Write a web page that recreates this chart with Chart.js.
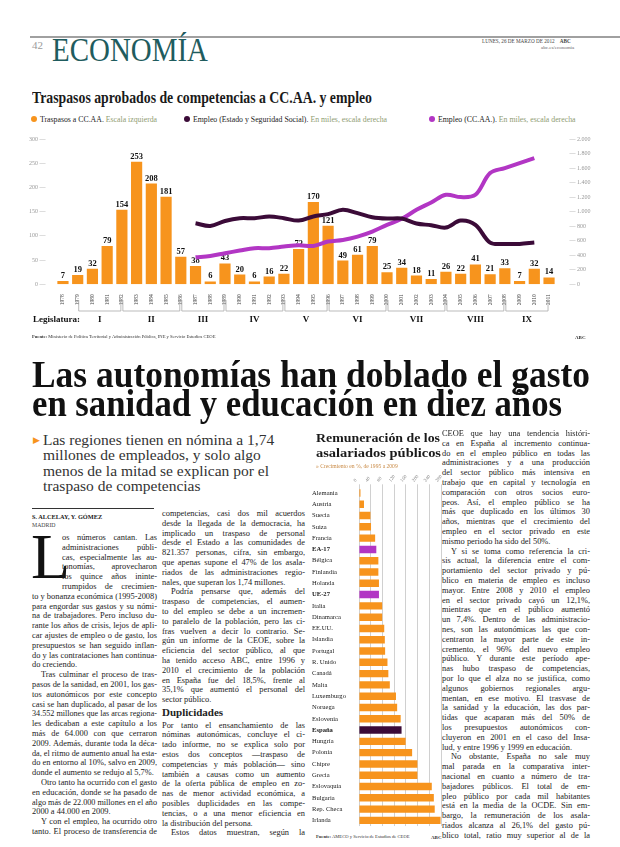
<!DOCTYPE html>
<html lang="es">
<head>
<meta charset="utf-8">
<title>Economía</title>
<script src="https://cdn.jsdelivr.net/npm/chart.js@4.4.1/dist/chart.umd.min.js"></script>
<style>
body{margin:0;width:620px;height:847px;position:relative;overflow:hidden;background:#fff;font-family:"Liberation Serif",serif;color:#222}
.a{position:absolute;white-space:nowrap;line-height:1}
.fit{display:inline-block;transform-origin:0 0}
.dot{display:inline-block;width:6px;height:6px;border-radius:50%;margin-right:3px;vertical-align:0}
.note{color:#8f9c72}
.col{position:absolute;font-size:8.4px;color:#222}
.col div{line-height:9.75px}
</style>
</head>
<body>
<!-- cabecera -->
<div class="a" style="left:30px;top:36px;width:590px;height:1.5px;background:#a0a0a0"></div>
<div class="a" style="left:32px;top:40px;font-size:11px;color:#9a9a9a">42</div>
<div class="a" style="left:52px;top:34px;font-size:33px;color:#1f5c5e"><span class="fit" id="eco">ECONOMÍA</span></div>
<div class="a" style="left:482px;top:39px;font-size:5.2px;color:#444">LUNES, 26 DE MARZO DE 2012 &nbsp;&nbsp;&nbsp;<b>ABC</b></div>
<div class="a" style="left:541px;top:45px;font-size:5px;color:#666">abc.es/economia</div>

<!-- grafico principal -->
<div class="a" style="left:32px;top:90px;font-size:16px;font-weight:bold;color:#1a1a1a"><span class="fit" id="tit">Traspasos aprobados de competencias a CC.AA. y empleo</span></div>
<div class="a" style="left:31px;top:116px;font-size:7.8px;color:#222"><span class="dot" style="background:#f7941d"></span>Traspasos a CC.AA. <span class="note">Escala izquierda</span></div>
<div class="a" style="left:184px;top:116px;font-size:7.8px;color:#222"><span class="dot" style="background:#3b0b38"></span>Empleo (Estado y Seguridad Social). <span class="note">En miles, escala derecha</span></div>
<div class="a" style="left:429px;top:116px;font-size:7.8px;color:#222"><span class="dot" style="background:#b236c4"></span>Empleo (CC.AA.). <span class="note">En miles, escala derecha</span></div>
<canvas id="c1" width="620" height="215" style="position:absolute;left:0;top:125px"></canvas>
<div class="a" style="left:32px;top:335px;font-size:4.6px;color:#333"><b>Fuente:</b> Ministerio de Política Territorial y Administración Pública, INE y Servicio Estudios CEOE</div>
<div class="a" style="left:575px;top:335px;font-size:5px;font-weight:bold;color:#333">ABC</div>

<!-- titular -->
<div class="a" style="left:32px;top:355px;font-size:38px;font-weight:bold;color:#111"><span class="fit" id="h1">Las autonomías han doblado el gasto</span></div>
<div class="a" style="left:32px;top:384px;font-size:38px;font-weight:bold;color:#111"><span class="fit" id="h2">en sanidad y educación en diez años</span></div>

<div class="a" style="left:33px;top:436px;font-size:9px;color:#f7941d">&#9654;</div>
<div class="a" style="left:43px;top:432px;font-size:15.5px;color:#333;line-height:15.3px">Las regiones tienen en nómina a 1,74<br>millones de empleados, y solo algo<br>menos de la mitad se explican por el<br>traspaso de competencias</div>

<div class="a" style="left:32px;top:508px;width:122px;height:1.2px;background:#333"></div>
<div class="a" style="left:32px;top:514px;font-size:6.3px;font-weight:bold">S. ALCELAY, Y. GÓMEZ</div>
<div class="a" style="left:32px;top:523px;font-size:5.8px;color:#444">MADRID</div>
<div class="a" style="left:31px;top:525px;font-size:64px;color:#111">L</div>
<div class="col" id="col1" style="left:32px;top:533px"></div>
<div class="col" id="col2" style="left:162px;top:509px"></div>
<div class="col" id="col3" style="left:442px;top:429px"></div>

<!-- grafico remuneracion -->
<div class="a" style="left:316px;top:430px;font-size:13.5px;font-weight:bold;color:#1a1a1a;line-height:15px"><span class="fit" id="t2a">Remuneración de los</span><br><span class="fit" id="t2b">asalariados públicos</span></div>
<div class="a" style="left:316px;top:464px;font-size:5.6px;color:#c98a45">» Crecimiento en %, de 1995 a 2009</div>
<canvas id="c2" width="135" height="360" style="position:absolute;left:312px;top:472px"></canvas>
<div class="a" style="left:316px;top:835px;font-size:4.6px;color:#333"><b>Fuente:</b> AMECO y Servicio de Estudios de CEOE</div>
<div class="a" style="left:431px;top:835px;font-size:5px;font-weight:bold;color:#333">ABC</div>

<script>
// Traspasos aprobados por año (escala izquierda)
const years = ['1978','1979','1980','1981','1982','1983','1984','1985','1986','1987','1988','1989','1990','1991','1992','1993','1994','1995','1996','1997','1998','1999','2000','2001','2002','2003','2004','2005','2006','2007','2008','2009','2010','2011'];
const traspasos = [7,19,32,79,154,253,208,181,57,38,6,43,20,6,16,22,73,170,121,49,61,79,25,34,18,11,26,22,41,21,33,7,32,14];
// Empleo en miles (escala derecha)
const empleoEstado = [null,null,null,null,null,null,null,null,null,841,803,872,910,910,933,910,877,933,966,1025,979,924,905,905,836,814,781,877,818,574,556,556,574,null];
const empleoCCAA = [null,null,null,null,null,null,null,null,null,372,390,428,464,497,497,519,538,528,588,611,657,726,818,901,1025,1126,1232,1200,1232,1531,1600,1669,1738,null];
// Legislaturas: año inicial y final de cada tramo
const legislaturas = ['I','II','III','IV','V','VI','VII','VIII','IX'];
const legInicio = ['1979','1982','1986','1989','1993','1996','2000','2004','2008'];
const legFin = ['1982','1986','1989','1993','1996','2000','2004','2008','2011'];

// Remuneración de los asalariados públicos, crecimiento % 1995-2009
const paises = ['Alemania','Austria','Suecia','Suiza','Francia','EA-17','Bélgica','Finlandia','Holanda','UE-27','Italia','Dinamarca','EE.UU.','Islandia','Portugal','R. Unido','Canadá','Malta','Luxemburgo','Noruega','Eslovenia','España','Hungría','Polonia','Chipre','Grecia','Eslovaquia','Bulgaria','Rep. Checa','Irlanda'];
const crecimiento = [5,17,39,41,55,59,66,66,68,68,79,79,86,88,89,97,100,105,126,130,142,145,159,181,199,199,248,255,258,278];

const ORANGE = '#f7941d', DARK = '#3b0b38', MAGENTA = '#b236c4';
const SERIF = '"Liberation Serif", serif';

const barLabels = {
  id: 'barLabels',
  afterDatasetDraw(chart, args) {
    if (args.index !== 2) return;
    const ctx = chart.ctx;
    ctx.save();
    ctx.font = 'bold 8.5px ' + SERIF;
    ctx.fillStyle = '#111';
    ctx.textAlign = 'center';
    ctx.textBaseline = 'bottom';
    args.meta.data.forEach((b, i) => ctx.fillText(traspasos[i], b.x, b.y - 1));
    ctx.restore();
  }
};

const legPlugin = {
  id: 'legPlugin',
  afterDraw(chart) {
    const ctx = chart.ctx, x = chart.scales.x;
    const yTop = 175, yBot = 186, yText = 195;
    ctx.save();
    ctx.strokeStyle = '#aaa';
    ctx.lineWidth = 0.8;
    ctx.fillStyle = '#111';
    ctx.font = 'bold 9px ' + SERIF;
    ctx.textBaseline = 'middle';
    ctx.textAlign = 'left';
    ctx.fillText('Legislatura:', 33, yText);
    ctx.textAlign = 'center';
    legislaturas.forEach((l, i) => {
      const x1 = x.getPixelForValue(years.indexOf(legInicio[i])) + 1;
      const x2 = x.getPixelForValue(years.indexOf(legFin[i])) - 1;
      ctx.beginPath();
      ctx.moveTo(x1, yTop); ctx.lineTo(x1, yBot); ctx.lineTo(x2, yBot); ctx.lineTo(x2, yTop);
      ctx.stroke();
      ctx.fillText(l, (x1 + x2) / 2, yText);
    });
    ctx.restore();
  }
};

new Chart(document.getElementById('c1'), {
  data: {
    labels: years,
    datasets: [
      {type: 'line', data: empleoEstado, yAxisID: 'yR', borderColor: DARK, borderWidth: 4, pointRadius: 0, tension: 0.35, order: 1},
      {type: 'line', data: empleoCCAA, yAxisID: 'yR', borderColor: MAGENTA, borderWidth: 4, pointRadius: 0, tension: 0.35, order: 2},
      {type: 'bar', data: traspasos, yAxisID: 'yL', backgroundColor: ORANGE, barPercentage: 0.76, categoryPercentage: 1, order: 3}
    ]
  },
  options: {
    responsive: false,
    animation: false,
    layout: {padding: {top: 14}},
    plugins: {legend: {display: false}, tooltip: {enabled: false}},
    scales: {
      x: {
        grid: {display: false}, border: {display: false},
        ticks: {minRotation: 90, maxRotation: 90, autoSkip: false, padding: 2, color: '#444', font: {size: 5.5, family: SERIF}},
        afterFit: s => { s.height = 55.7; }
      },
      yL: {
        position: 'left', min: 0, max: 300,
        grid: {display: false}, border: {display: false},
        ticks: {stepSize: 50, padding: 2, color: '#999', font: {size: 6, family: SERIF}, callback: v => v + ' —'},
        afterFit: s => { s.width = 55.6; }
      },
      yR: {
        position: 'right', min: 0, max: 2000,
        grid: {display: false}, border: {display: false},
        ticks: {stepSize: 200, padding: 5, color: '#999', font: {size: 6, family: SERIF}, callback: v => '— ' + v.toLocaleString('de-DE')},
        afterFit: s => { s.width = 63.6; }
      }
    }
  },
  plugins: [barLabels, legPlugin]
});

const destacados = ['EA-17', 'UE-27', 'España'];
new Chart(document.getElementById('c2'), {
  type: 'bar',
  data: {
    labels: paises,
    datasets: [{
      data: crecimiento,
      backgroundColor: paises.map(p => p === 'España' ? DARK : (p === 'EA-17' || p === 'UE-27') ? MAGENTA : ORANGE),
      barPercentage: 0.66, categoryPercentage: 1
    }]
  },
  options: {
    indexAxis: 'y',
    responsive: false,
    animation: false,
    layout: {padding: {right: 5, bottom: 4.3}},
    plugins: {legend: {display: false}, tooltip: {enabled: false}},
    scales: {
      x: {
        position: 'top', min: 0, max: 280,
        grid: {color: '#c4c4c4', lineWidth: 0.8, tickLength: 3}, border: {display: false},
        ticks: {stepSize: 40, padding: 1, color: '#888', font: {size: 5, family: SERIF}},
        afterFit: s => { s.height = 15.3; }
      },
      y: {
        grid: {display: false}, border: {display: false},
        ticks: {
          autoSkip: false, crossAlign: 'far', padding: 2, color: '#1a1a1a',
          font: c => ({size: 6.6, family: SERIF, weight: destacados.includes(paises[c.index]) ? 'bold' : 'normal'})
        },
        afterFit: s => { s.width = 47; }
      }
    }
  }
});

// texto del artículo, línea a línea como en la página
const col1 = [
  'os números cantan. Las', 'administraciones públi-', 'cas, especialmente las au-', 'tonomías, aprovecharon', 'los quince años ininte-', 'rrumpidos de crecimien-',
  'to y bonanza económica (1995-2008)', 'para engordar sus gastos y su nómi-', 'na de trabajadores. Pero incluso du-', 'rante los años de crisis, lejos de apli-',
  'car ajustes de empleo o de gasto, los', 'presupuestos se han seguido inflan-', 'do y las contrataciones han continua-', 'do creciendo.|',
  '>Tras culminar el proceso de tras-', 'pasos de la sanidad, en 2001, los gas-', 'tos autonómicos por este concepto', 'casi se han duplicado, al pasar de los',
  '34.552 millones que las arcas regiona-', 'les dedicaban a este capítulo a los', 'más de 64.000 con que cerraron', '2009. Además, durante toda la déca-',
  'da, el ritmo de aumento anual ha esta-', 'do en entorno al 10%, salvo en 2009,', 'donde el aumento se redujo al 5,7%.|',
  '>Otro tanto ha ocurrido con el gasto', 'en educación, donde se ha pasado de', 'algo más de 22.000 millones en el año', '2000 a 44.000 en 2009.|',
  '>Y con el empleo, ha ocurrido otro', 'tanto. El proceso de transferencia de'
];
const col2 = [
  'competencias, casi dos mil acuerdos', 'desde la llegada de la democracia, ha', 'implicado un traspaso de personal', 'desde el Estado a las comunidades de',
  '821.357 personas, cifra, sin embargo,', 'que apenas supone el 47% de los asala-', 'riados de las administraciones regio-', 'nales, que superan los 1,74 millones.|',
  '>Podría pensarse que, además del', 'traspaso de competencias, el aumen-', 'to del empleo se debe a un incremen-', 'to paralelo de la población, pero las ci-',
  'fras vuelven a decir lo contrario. Se-', 'gún un informe de la CEOE, sobre la', 'eficiencia del sector público, al que', 'ha tenido acceso ABC, entre 1996 y',
  '2010 el crecimiento de la población', 'en España fue del 18,5%, frente al', '35,1% que aumentó el personal del', 'sector público.|',
  '#Duplicidades',
  'Por tanto el ensanchamiento de las', 'nóminas autonómicas, concluye el ci-', 'tado informe, no se explica solo por', 'estos dos conceptos —traspaso de',
  'competencias y más población— sino', 'también a causas como un aumento', 'de la oferta pública de empleo en zo-', 'nas de menor actividad económica, a',
  'posibles duplicidades en las compe-', 'tencias, o a una menor eficiencia en', 'la distribución del persona.|', '>Estos datos muestran, según la'
];
const col3 = [
  'CEOE que hay una tendencia históri-', 'ca en España al incremento continua-', 'do en el empleo público en todas las', 'administraciones y a una producción',
  'del sector público más intensiva en', 'trabajo que en capital y tecnología en', 'comparación con otros socios euro-', 'peos. Así, el empleo público se ha',
  'más que duplicado en los últimos 30', 'años, mientras que el crecimiento del', 'empleo en el sector privado en este', 'mismo periodo ha sido del 50%.|',
  '>Y si se toma como referencia la cri-', 'sis actual, la diferencia entre el com-', 'portamiento del sector privado y pú-', 'blico en materia de empleo es incluso',
  'mayor. Entre 2008 y 2010 el empleo', 'en el sector privado cayó un 12,1%,', 'mientras que en el público aumentó', 'un 7,4%. Dentro de las administracio-',
  'nes, son las autonómicas las que con-', 'centraron la mayor parte de este in-', 'cremento, el 96% del nuevo empleo', 'público. Y durante este período ape-',
  'nas hubo traspaso de competencias,', 'por lo que el alza no se justifica, como', 'algunos gobiernos regionales argu-', 'mentan, en ese motivo. El trasvase de',
  'la sanidad y la educación, las dos par-', 'tidas que acaparan más del 50% de', 'los presupuestos autonómicos con-', 'cluyeron en 2001 en el caso del Insa-',
  'lud, y entre 1996 y 1999 en educación.|', '>No obstante, España no sale muy', 'mal parada en la comparativa inter-', 'nacional en cuanto a número de tra-',
  'bajadores públicos. El total de em-', 'pleo público por cada mil habitantes', 'está en la media de la OCDE. Sin em-', 'bargo, la remuneración de los asala-',
  'riados alcanza al 26,1% del gasto pú-', 'blico total, ratio muy superior al de la'
];

function renderCol(id, lines, width, lh, capLines, capIndent) {
  const el = document.getElementById(id);
  let y = 0;
  lines.forEach((t, i) => {
    const d = document.createElement('div');
    if (t.startsWith('#')) {
      d.textContent = t.slice(1);
      d.style.cssText = 'position:absolute;left:0;white-space:nowrap;font-weight:bold;font-size:11px;top:' + (y + 3) + 'px';
      el.appendChild(d);
      y += lh * 1.6;
      return;
    }
    const indent = t.startsWith('>'), last = t.endsWith('|');
    const text = t.replace(/^>/, '').replace(/\|$/, '');
    let left = indent ? 9 : 0;
    if (i < capLines) left = capIndent;
    const w = width - left;
    d.textContent = text;
    d.style.cssText = 'position:absolute;white-space:nowrap;left:' + left + 'px;top:' + y + 'px';
    el.appendChild(d);
    const nat = d.getBoundingClientRect().width;
    if (nat > w) {
      d.style.transformOrigin = '0 0';
      d.style.transform = 'scaleX(' + (w / nat) + ')';
    } else if (!last) {
      d.style.whiteSpace = 'normal';
      d.style.width = w + 'px';
      d.style.textAlign = 'justify';
      d.style.textAlignLast = 'justify';
    }
    y += lh;
  });
}
renderCol('col1', col1, 125, 9.8, 6, 30);
renderCol('col2', col2, 143, 9.8, 0, 0);
renderCol('col3', col3, 148, 9.8, 0, 0);

function fit(id, w) {
  const el = document.getElementById(id);
  const nat = el.getBoundingClientRect().width;
  el.style.transform = 'scaleX(' + (w / nat) + ')';
}
fit('eco', 156);
fit('tit', 340);
fit('h1', 558);
fit('h2', 530);
fit('t2a', 124);
fit('t2b', 125);
</script>
</body>
</html>
